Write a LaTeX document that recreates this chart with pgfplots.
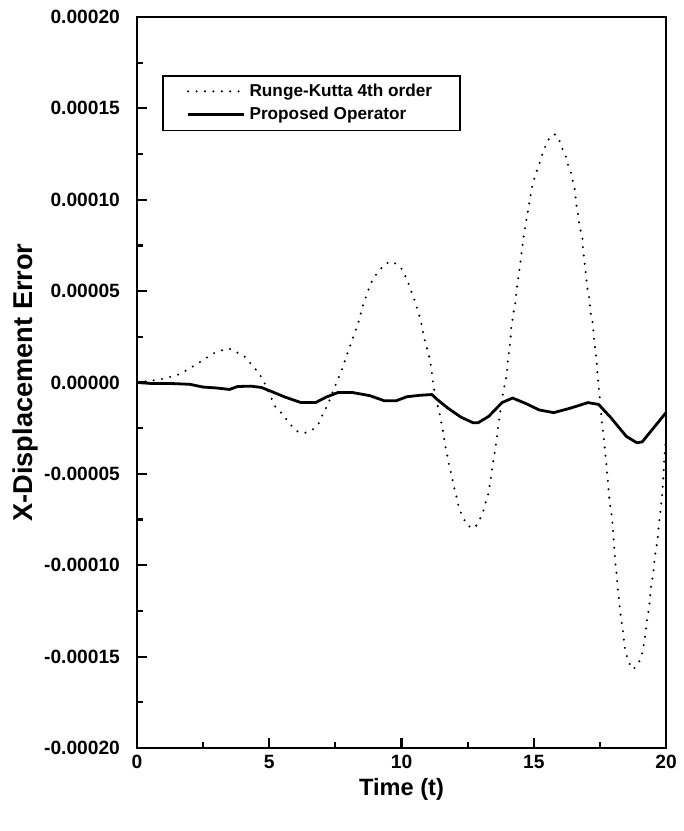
\documentclass[border=0pt]{standalone}
\usepackage{fontspec}
\setmainfont{Liberation Sans}
\usepackage{pgfplots}
\pgfplotsset{compat=1.18}
\usepackage{pgfplotstable}

% errors in units of 1e-5
\pgfplotstableread{
t err
0 0
0.45 0.08
1.0 0.2
1.6 0.45
2.2 0.95
2.9 1.6
3.45 1.88
4.05 1.45
4.36 0.93
4.59 0.55
4.8 0.05
5.0 -0.6
5.22 -1.3
5.54 -1.8
5.74 -2.2
6.02 -2.65
6.31 -2.78
6.63 -2.6
6.89 -2.2
7.05 -1.65
7.23 -1.15
7.46 -0.3
7.59 0.16
7.72 0.6
7.95 1.58
8.17 2.46
8.38 3.33
8.55 4.26
8.78 5.19
8.93 5.7
9.13 6.07
9.38 6.5
9.66 6.62
9.98 6.28
10.15 5.8
10.28 5.36
10.4 4.86
10.53 4.37
10.6 3.99
10.72 3.45
10.83 2.65
10.91 2.13
11.0 1.69
11.08 1.2
11.13 0.71
11.21 -0.2
11.3 -0.93
11.43 -1.6
11.52 -2.3
11.59 -2.84
11.64 -3.4
11.72 -3.9
11.81 -4.6
11.9 -5.1
11.98 -5.7
12.07 -6.2
12.16 -6.8
12.32 -7.4
12.51 -7.85
12.77 -7.97
12.96 -7.5
13.09 -7.05
13.18 -6.56
13.28 -6.1
13.38 -5.2
13.47 -4.3
13.56 -3.5
13.64 -2.57
13.73 -1.64
13.82 -0.77
13.9 -0.1
13.98 0.4
14.02 1.15
14.11 2.19
14.15 3.0
14.24 3.88
14.31 4.43
14.37 5.25
14.46 6.17
14.54 7.1
14.62 8.0
14.71 8.8
14.82 9.73
14.92 10.6
15.03 11.2
15.13 11.64
15.24 12.1
15.35 12.6
15.5 13.15
15.65 13.5
15.8 13.57
15.93 13.4
16.06 12.86
16.21 12.4
16.27 12.0
16.4 11.5
16.47 11.05
16.54 10.66
16.58 10.16
16.61 9.73
16.67 9.3
16.71 8.8
16.76 8.36
16.84 7.9
16.86 7.38
16.89 6.9
16.93 6.45
16.99 5.6
17.02 5.2
17.09 4.7
17.15 3.8
17.22 3.3
17.25 2.9
17.27 2.46
17.35 1.53
17.38 1.1
17.4 0.6
17.44 0.0
17.5 -0.9
17.57 -2.1
17.63 -2.8
17.68 -3.5
17.74 -4.4
17.82 -5.7
17.87 -6.6
17.95 -7.3
17.99 -7.9
18.04 -9.0
18.08 -9.8
18.12 -10.3
18.17 -11.2
18.21 -11.7
18.27 -12.6
18.37 -13.6
18.45 -14.6
18.55 -15.15
18.64 -15.45
18.76 -15.7
18.95 -15.4
19.08 -14.95
19.14 -14.5
19.2 -14.0
19.27 -13.1
19.37 -12.2
19.42 -11.3
19.52 -10.4
19.58 -9.5
19.68 -8.6
19.74 -7.65
19.81 -6.8
19.87 -5.85
19.91 -4.9
19.94 -4.05
19.97 -3.5
20.0 -3.0
}\rkdata

\pgfplotstableread{
t err
0 0
0.5 -0.05
1.2 -0.05
2.0 -0.1
2.5 -0.25
3.0 -0.3
3.5 -0.38
3.8 -0.22
4.3 -0.2
4.7 -0.27
5.1 -0.5
5.6 -0.8
6.2 -1.1
6.75 -1.1
7.15 -0.8
7.6 -0.55
8.15 -0.55
8.8 -0.72
9.35 -1.0
9.8 -1.0
10.2 -0.78
10.7 -0.7
11.15 -0.66
11.35 -0.93
11.75 -1.4
12.25 -1.9
12.7 -2.2
12.9 -2.2
13.3 -1.85
13.8 -1.1
14.2 -0.85
14.7 -1.15
15.2 -1.5
15.75 -1.65
16.35 -1.42
17.05 -1.1
17.45 -1.2
17.9 -1.9
18.5 -2.95
18.9 -3.3
19.1 -3.25
19.55 -2.45
20.0 -1.65
}\podata

\begin{document}
\begin{tikzpicture}
\begin{axis}[name=ax,
  scale only axis, width=264.5pt, height=365.5pt,
  xmin=0, xmax=20, ymin=-20, ymax=20,
  axis line style={line width=1.3pt},
  xtick={0,5,10,15,20}, minor xtick={2.5,7.5,12.5,17.5},
  ytick={-20,-15,-10,-5,0,5,10,15,20},
  minor ytick={-17.5,-12.5,-7.5,-2.5,2.5,7.5,12.5,17.5},
  yticklabels={-0.00020,-0.00015,-0.00010,-0.00005,0.00000,0.00005,0.00010,0.00015,0.00020},
  xtick pos=left, ytick pos=left, tick align=inside,
  major tick length=4.8pt, minor tick length=2.8pt,
  tick style={line width=1.1pt, black},
  /pgf/number format/assume math mode=true,
  ticklabel style={font=\bfseries\fontsize{9.6}{11}\selectfont},
  yticklabel style={xshift=-5pt},
  xlabel={Time (t)}, ylabel={X-Displacement Error},
  xlabel style={font=\bfseries\fontsize{11.8}{13}\selectfont, yshift=2pt},
  ylabel style={font=\bfseries\fontsize{13.6}{15}\selectfont, yshift=-4pt},
  legend cell align=left,
  legend style={at={(rel axis cs:0.047,0.921)}, anchor=north west,
    draw=black, line width=0.9pt, inner xsep=12pt, inner ysep=2pt,
    font=\bfseries\fontsize{8.6}{10}\selectfont,
    /tikz/every even column/.append style={column sep=0pt}},
  legend image code/.code={\draw[#1] (0pt,0pt) -- (28pt,0pt);},
]
\addplot[black, line width=1.15pt, line cap=round, dash pattern=on 0pt off 4.2pt]
  table[x=t, y=err] {\rkdata};
\addlegendentry{Runge-Kutta 4th order\hspace{8pt}}
\addplot[black, line width=1.4pt, line join=round]
  table[x=t, y=err] {\podata};
\addlegendentry{Proposed Operator}
\end{axis}
\path ([shift={(-68.5pt,-41.5pt)}]ax.south west) rectangle ([shift={(6.5pt,8.5pt)}]ax.north east);
\end{tikzpicture}
\end{document}
